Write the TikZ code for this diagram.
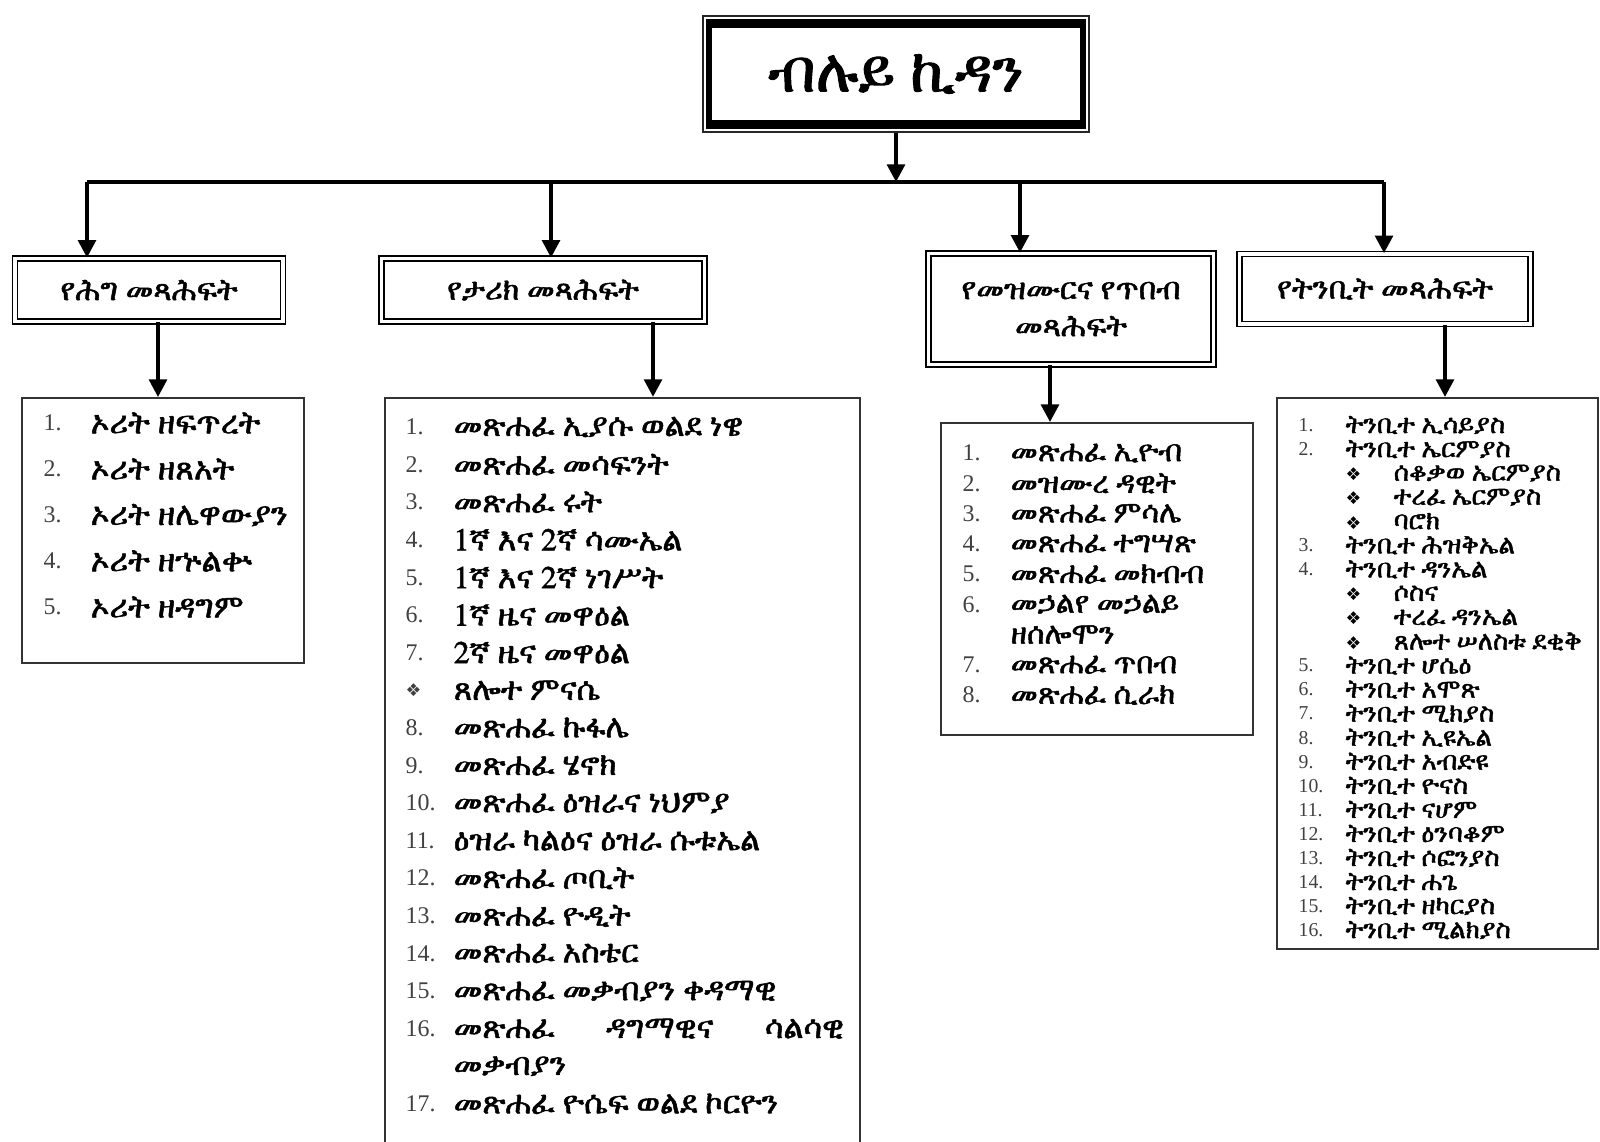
\documentclass[tikz,border=0pt]{standalone}
\usepackage{fontspec}
\setmainfont{Liberation Serif}
\newfontfamily\dingfont{DejaVu Sans}
\IfFontExistsTF{FreeSerif}
  {\newfontfamily\tryfont{FreeSerif}[FakeBold=1.6]}
  {\newfontfamily\tryfont{DejaVu Sans}}
\newif\ifgeezok
{\tryfont\iffontchar\font"1218 \global\geezoktrue\fi}
\ifgeezok
  \let\geez\tryfont
\else
  \newfontfamily\geez{Abyssinica SIL}[FakeBold=1.5]
\fi
\usetikzlibrary{positioning,arrows.meta,calc}

\newcommand\dia{{\dingfont\fontsize{5}{6}\selectfont ❖}}
\newcommand\subbook[1]{\makebox[0.48cm][l]{\dia}#1}

\begin{document}
\begin{tikzpicture}[
      x=0.01cm, y=-0.01cm,
      >={Triangle[length=5pt,width=5pt]},
      wire/.style={line width=1.1pt},
      topbox/.style={fill=white, draw=black!85, line width=0.5pt,
        minimum width=3.86cm, minimum height=1.16cm, inner sep=0,
        path picture={
          \fill[black]
            ([shift={(0.035cm,-0.035cm)}]path picture bounding box.north west) rectangle
            ([shift={(-0.035cm,0.035cm)}]path picture bounding box.south east);
          \fill[white]
            ([shift={(0.095cm,-0.12cm)}]path picture bounding box.north west) rectangle
            ([shift={(-0.095cm,0.12cm)}]path picture bounding box.south east);}},
      group/.style={draw, double, double distance=0.9pt, line width=0.45pt,
        inner sep=0, align=center,
        font=\geez\fontsize{8.7}{10.5}\selectfont},
      list/.style={draw=black!80, line width=0.5pt, inner sep=0},
      num/.style={anchor=west, inner sep=0, text=black!75,
        font=\fontsize{6.8}{8}\selectfont},
      litem/.style={anchor=west, inner sep=0,
        font=\geez\fontsize{9}{10}\selectfont},
      snum/.style={num, font=\fontsize{5.6}{7}\selectfont},
      sitem/.style={litem, font=\geez\fontsize{7.4}{8}\selectfont}]

  \useasboundingbox (0,0) rectangle (1600,1141);
  \clip (0,0) rectangle (1600,1141);

  % top of the tree
  \node[topbox] (root) at (896,74)
       {\geez\fontsize{17}{20}\selectfont ብሉይ ኪዳን};

  \coordinate (bus) at (896,182);
  \coordinate (b1) at (87,182);
  \coordinate (b2) at (551,182);
  \coordinate (b3) at (1020,182);
  \coordinate (b4) at (1384,182);

  \draw[wire,->] (root) -- (bus);
  \draw[wire] (b1) -- (b4);

  % the four groups
  \node[group, minimum width=2.68cm, minimum height=0.63cm] (law)
       at (149,290) {የሕግ መጻሕፍት};
  \node[group, minimum width=3.23cm, minimum height=0.63cm] (hist)
       at (543,290) {የታሪክ መጻሕፍት};
  \node[group, minimum width=2.85cm, minimum height=1.11cm] (poet)
       at (1071,309) {የመዝሙርና የጥበብ\\መጻሕፍት};
  \node[group, minimum width=2.91cm, minimum height=0.70cm] (proph)
       at (1385,289) {የትንቢት መጻሕፍት};

  \draw[wire,->] (b1) -- (b1 |- law.north);
  \draw[wire,->] (b2) -- (b2 |- hist.north);
  \draw[wire,->] (b3) -- (b3 |- poet.north);
  \draw[wire,->] (b4) -- (b4 |- proph.north);

  % the book lists
  \node[list, minimum width=2.82cm, minimum height=2.65cm] (lawlist)
       at (163,530.5) {};
  \node[list, minimum width=4.75cm, minimum height=7.8cm] (histlist)
       at (622.5,788) {};
  \node[list, minimum width=3.12cm, minimum height=3.12cm] (poetlist)
       at (1097,579) {};
  \node[list, minimum width=3.21cm, minimum height=5.51cm] (prophlist)
       at (1437.5,673.5) {};

  \coordinate (x1) at (158,0);
  \coordinate (x2) at (653,0);
  \coordinate (x3) at (1050,0);
  \coordinate (x4) at (1445,0);
  \draw[wire,->] (x1 |- law.south) -- (x1 |- lawlist.north);
  \draw[wire,->] (x2 |- hist.south) -- (x2 |- histlist.north);
  \draw[wire,->] (x3 |- poet.south) -- (x3 |- poetlist.north);
  \draw[wire,->] (x4 |- proph.south) -- (x4 |- prophlist.north);

  % law
  \foreach \n/\t [count=\k from 0] in {1./ኦሪት ዘፍጥረት, 2./ኦሪት ዘጸአት,
      3./ኦሪት ዘሌዋውያን, 4./ኦሪት ዘኍልቍ, 5./ኦሪት ዘዳግም}{
    \node[num] (ln\k) at (43,423+46*\k) {\n};
    \node[litem, font=\geez\fontsize{9.1}{10}\selectfont] (lt\k)
         at (90,423+46*\k) {\t};
  }

  % history
  \foreach \n/\t [count=\k from 0] in {1./መጽሐፈ ኢያሱ ወልደ ነዌ,
      2./መጽሐፈ መሳፍንት, 3./መጽሐፈ ሩት, 4./1ኛ እና 2ኛ ሳሙኤል,
      5./1ኛ እና 2ኛ ነገሥት, 6./1ኛ ዜና መዋዕል, 7./2ኛ ዜና መዋዕል,
      \dia/ጸሎተ ምናሴ, 8./መጽሐፈ ኩፋሌ, 9./መጽሐፈ ሄኖክ,
      10./መጽሐፈ ዕዝራና ነህምያ, 11./ዕዝራ ካልዕና ዕዝራ ሱቱኤል,
      12./መጽሐፈ ጦቢት, 13./መጽሐፈ ዮዲት, 14./መጽሐፈ አስቴር,
      15./መጽሐፈ መቃብያን ቀዳማዊ,
      16./{\makebox[3.9cm][s]{መጽሐፈ ዳግማዊና ሳልሳዊ}},
      /መቃብያን, 17./መጽሐፈ ዮሴፍ ወልደ ኮርዮን}{
    \node[num] (hn\k) at (405,427+37.6*\k) {\n};
    \node[litem] (ht\k) at (453,427+37.6*\k) {\t};
  }

  % poetry and wisdom
  \foreach \n/\t [count=\k from 0] in {1./መጽሐፈ ኢዮብ, 2./መዝሙረ ዳዊት,
      3./መጽሐፈ ምሳሌ, 4./መጽሐፈ ተግሣጽ, 5./መጽሐፈ መክብብ,
      6./መኃልየ መኃልይ, /ዘሰሎሞን, 7./መጽሐፈ ጥበብ, 8./መጽሐፈ ሲራክ}{
    \node[num] (pn\k) at (962,453+30.25*\k) {\n};
    \node[litem, font=\geez\fontsize{8.5}{9}\selectfont] (pt\k)
         at (1010,453+30.25*\k) {\t};
  }

  % prophets
  \foreach \n/\t [count=\k from 0] in {1./ትንቢተ ኢሳይያስ, 2./ትንቢተ ኤርምያስ,
      /\subbook{ሰቆቃወ ኤርምያስ}, /\subbook{ተረፈ ኤርምያስ}, /\subbook{ባሮክ},
      3./ትንቢተ ሕዝቅኤል, 4./ትንቢተ ዳንኤል,
      /\subbook{ሶስና}, /\subbook{ተረፈ ዳንኤል}, /\subbook{ጸሎተ ሠለስቱ ደቂቅ},
      5./ትንቢተ ሆሴዕ, 6./ትንቢተ አሞጽ, 7./ትንቢተ ሚክያስ, 8./ትንቢተ ኢዩኤል,
      9./ትንቢተ አብድዩ, 10./ትንቢተ ዮናስ, 11./ትንቢተ ናሆም,
      12./ትንቢተ ዕንባቆም, 13./ትንቢተ ሶፎንያስ, 14./ትንቢተ ሐጌ,
      15./ትንቢተ ዘካርያስ, 16./ትንቢተ ሚልክያስ}{
    \node[snum] (sn\k) at (1298,425+24.05*\k) {\n};
    \node[sitem] (st\k) at (1345,425+24.05*\k) {\t};
  }

\end{tikzpicture}
\end{document}
